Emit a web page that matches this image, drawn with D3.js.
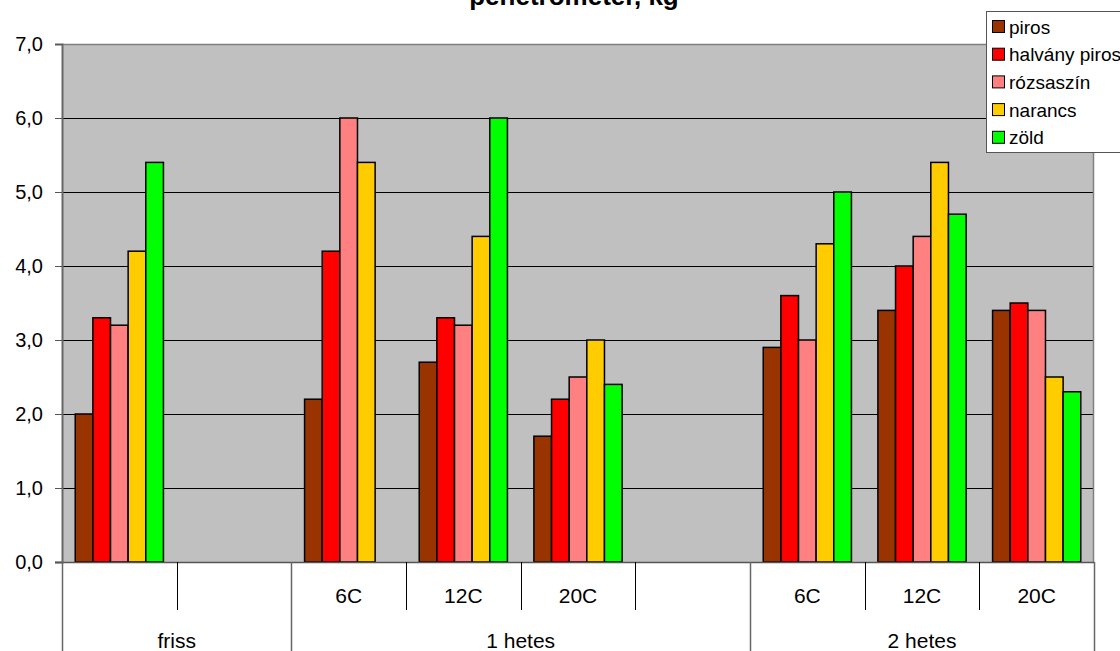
<!DOCTYPE html>
<html>
<head>
<meta charset="utf-8">
<script src="https://cdn.jsdelivr.net/npm/d3@7/dist/d3.min.js"></script>
<style>
  html, body { margin: 0; padding: 0; background: #fff; }
  svg { display: block; font-family: "Liberation Sans", Arial, sans-serif; }
</style>
</head>
<body>
<svg id="chart" width="1120" height="651"></svg>
<script>
// Series (legend order) and their fills
const seriesNames = ["piros", "halvány piros", "rózsaszín", "narancs", "zöld"];
const seriesColors = ["#993300", "#FF0000", "#FF8080", "#FFCC00", "#00FF00"];

// Category slots: inner labels and outer group labels with their spans
const slotLabels = ["", "", "6C", "12C", "20C", "", "6C", "12C", "20C"];
const groupLabels = ["friss", "1 hetes", "2 hetes"];
const groupSpans = [2, 4, 3];

// Penetrometer readings (kg) per series, one value per slot
const piros        = [2.0, null, 2.2, 2.7, 1.7, null, 2.9, 3.4, 3.4];
const halvanyPiros = [3.3, null, 4.2, 3.3, 2.2, null, 3.6, 4.0, 3.5];
const rozsaszin    = [3.2, null, 6.0, 3.2, 2.5, null, 3.0, 4.4, 3.4];
const narancs      = [4.2, null, 5.4, 4.4, 3.0, null, 4.3, 5.4, 2.5];
const zold         = [5.4, null, null, 6.0, 2.4, null, 5.0, 4.7, 2.3];
const seriesValues = [piros, halvanyPiros, rozsaszin, narancs, zold];

const yTicks = [0, 1, 2, 3, 4, 5, 6, 7];

const svg = d3.select("#chart");
const plot = { left: 62, right: 1094, top: 44, bottom: 562 };

const x = d3.scaleBand()
  .domain(d3.range(slotLabels.length))
  .range([plot.left, plot.right])
  .padding(0);

const xSub = d3.scaleBand()
  .domain(d3.range(seriesNames.length))
  .range([0, x.bandwidth()])
  .paddingInner(0)
  .paddingOuter(0.75);

const y = d3.scaleLinear().domain([0, 7]).range([plot.bottom, plot.top]);

// Plot background
svg.append("rect")
  .attr("x", plot.left).attr("y", plot.top)
  .attr("width", plot.right - plot.left).attr("height", plot.bottom - plot.top)
  .attr("fill", "#C0C0C0");

// Gridlines
svg.append("g").selectAll("line")
  .data(yTicks.filter(t => t > 0 && t < 7))
  .join("line")
  .attr("x1", plot.left).attr("x2", plot.right)
  .attr("y1", d => Math.round(y(d)) + 0.5).attr("y2", d => Math.round(y(d)) + 0.5)
  .attr("stroke", "#000").attr("stroke-width", 1);

// Plot border (top and right)
svg.append("path")
  .attr("d", `M${plot.left},${plot.top + 0.5}H${plot.right - 0.5}V${plot.bottom}`)
  .attr("fill", "none").attr("stroke", "#808080").attr("stroke-width", 1.5);

// Bars
const bars = [];
seriesValues.forEach((vals, s) => {
  vals.forEach((v, i) => {
    if (v != null) bars.push({ s, i, v });
  });
});
svg.append("g").selectAll("rect")
  .data(bars)
  .join("rect")
  .attr("x", d => x(d.i) + xSub(d.s))
  .attr("y", d => y(d.v))
  .attr("width", xSub.bandwidth())
  .attr("height", d => y(0) - y(d.v))
  .attr("fill", d => seriesColors[d.s])
  .attr("stroke", "#000")
  .attr("stroke-width", 1.5);

// Y axis
const yAxis = svg.append("g")
  .attr("transform", `translate(${plot.left},0)`)
  .call(d3.axisLeft(y).tickValues(yTicks).tickSize(7).tickPadding(12)
    .tickFormat(d => d3.format(".1f")(d).replace(".", ",")));
yAxis.select(".domain").attr("stroke", "#666").attr("stroke-width", 2);
yAxis.selectAll(".tick line").attr("stroke", "#555");
yAxis.selectAll(".tick text")
  .attr("font-size", 20).attr("fill", "#000")
  .attr("font-family", "'Liberation Sans', Arial, sans-serif");

// Category axis: inner row
const row1Bottom = 610, row2Bottom = 651;
const xAxisG = svg.append("g");
xAxisG.append("line")
  .attr("x1", plot.left - 7).attr("x2", plot.right)
  .attr("y1", plot.bottom + 0.5).attr("y2", plot.bottom + 0.5)
  .attr("stroke", "#555").attr("stroke-width", 1.5);

// Group boundaries (full height) and slot boundaries (inner row only)
const groupStarts = [];
let acc = 0;
groupSpans.forEach(n => { groupStarts.push(acc); acc += n; });
const boundaries = d3.range(slotLabels.length + 1);
const isGroupEdge = d => groupStarts.includes(d) || d === slotLabels.length;
xAxisG.selectAll("line.sep")
  .data(boundaries)
  .join("line")
  .attr("class", "sep")
  .attr("x1", d => Math.round(d < slotLabels.length ? x(d) : plot.right) + 0.5)
  .attr("x2", d => Math.round(d < slotLabels.length ? x(d) : plot.right) + 0.5)
  .attr("y1", plot.bottom)
  .attr("y2", d => isGroupEdge(d) ? row2Bottom : row1Bottom)
  .attr("stroke", d => isGroupEdge(d) ? "#666" : "#000")
  .attr("stroke-width", d => isGroupEdge(d) ? 1.5 : 1);

xAxisG.selectAll("text.slot")
  .data(slotLabels.map((t, i) => ({ t, i })).filter(d => d.t))
  .join("text")
  .attr("class", "slot")
  .attr("x", d => x(d.i) + x.bandwidth() / 2)
  .attr("y", 603)
  .attr("text-anchor", "middle")
  .attr("font-size", 21)
  .text(d => d.t);

xAxisG.selectAll("text.group")
  .data(groupLabels.map((t, g) => ({ t, g })))
  .join("text")
  .attr("class", "group")
  .attr("x", d => {
    const a = x(groupStarts[d.g]);
    const b = x(groupStarts[d.g] + groupSpans[d.g] - 1) + x.bandwidth();
    return (a + b) / 2;
  })
  .attr("y", 648)
  .attr("text-anchor", "middle")
  .attr("font-size", 21)
  .text(d => d.t);

// Title (runs off the top edge of the canvas)
svg.append("text")
  .attr("x", 574).attr("y", 5)
  .attr("text-anchor", "middle")
  .attr("font-size", 26).attr("font-weight", "bold")
  .text("penetrometer, kg");

// Legend
const legend = svg.append("g").attr("transform", "translate(986,11)");
legend.append("rect")
  .attr("x", 0.5).attr("y", 0.5).attr("width", 160).attr("height", 141)
  .attr("fill", "#fff").attr("stroke", "#555").attr("stroke-width", 1);
const items = legend.selectAll("g.item")
  .data(seriesNames.map((n, i) => ({ n, i })))
  .join("g")
  .attr("class", "item")
  .attr("transform", d => `translate(0,${16 + d.i * 27.7})`);
items.append("rect")
  .attr("x", 6.5).attr("y", -6.5).attr("width", 12).attr("height", 12)
  .attr("fill", d => seriesColors[d.i]).attr("stroke", "#000").attr("stroke-width", 1);
items.append("text")
  .attr("x", 23).attr("y", 6.5)
  .attr("font-size", 19)
  .text(d => d.n);
</script>
</body>
</html>
